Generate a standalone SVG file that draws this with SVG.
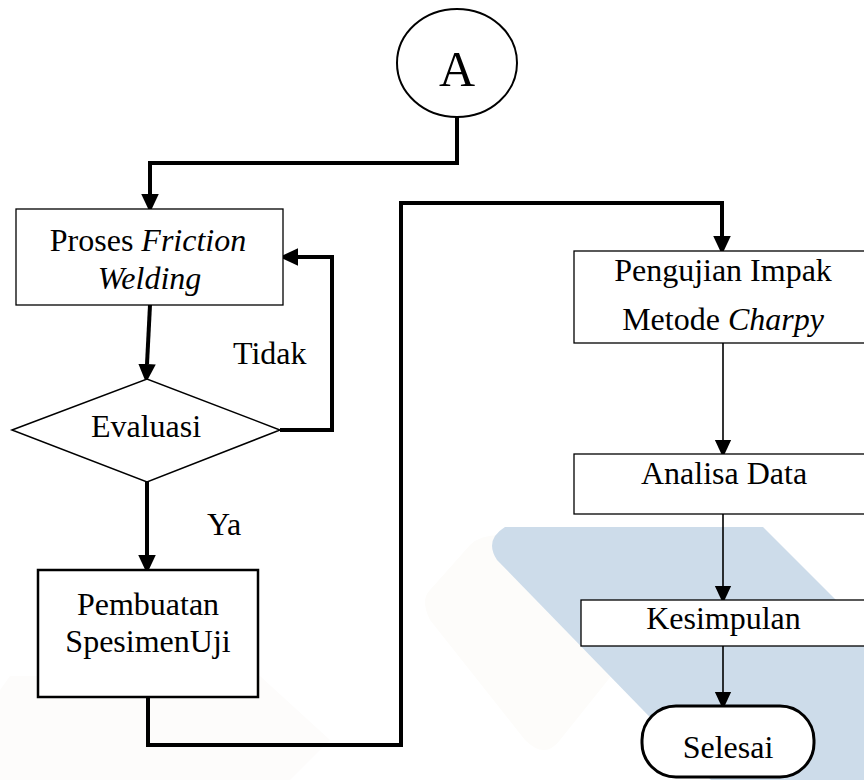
<svg xmlns="http://www.w3.org/2000/svg" width="864" height="780" viewBox="0 0 864 780">
  <defs>
    <marker id="arrowThick" markerUnits="userSpaceOnUse" markerWidth="20" markerHeight="20" viewBox="0 -8 16 16" refX="0" refY="0" orient="auto">
      <path d="M0,-7 L15,0 L0,7 z" fill="#000"/>
    </marker>
    <marker id="arrowThin" markerUnits="userSpaceOnUse" markerWidth="20" markerHeight="20" viewBox="0 -8 16 16" refX="0" refY="0" orient="auto">
      <path d="M0,-6.5 L14,0 L0,6.5 z" fill="#000"/>
    </marker>
  </defs>
  <style>
    text { font-family: "Liberation Serif", "Times New Roman", serif; font-size: 32px; fill: #000; }
    .c { text-anchor: middle; }
    .i { font-style: italic; }
    .box { fill: #fff; stroke: #000; stroke-width: 1.3; }
    .thick { fill: none; stroke: #000; stroke-width: 4; marker-end: url(#arrowThick); }
    .thin { fill: none; stroke: #000; stroke-width: 1.6; marker-end: url(#arrowThin); }
  </style>
  <rect width="864" height="780" fill="#fff"/>
  <g id="watermark">
    <path d="M470,545 Q480,535 500,535 L575,535 Q590,535 600,548 L640,605 Q650,620 640,640 L560,740 Q545,760 525,740 L430,620 Q420,600 430,590 Z" fill="#fdfcfa"/>
    <path d="M0,690 L0,780 L290,780 L330,740 L260,676 L10,676 Z" fill="#fdfcfb"/>
    <path d="M497,560 Q484,540 505,527 L763,527 L864,628 L864,780 L711,780 Z" fill="#cddcea"/>
  </g>
  <g id="connectors">
    <path class="thick" d="M457,117 V163 H150 V194"/>
    <path class="thick" d="M150,305 L147,364"/>
    <path class="thick" d="M280,430 H332 V257 H298"/>
    <path class="thick" d="M147,482 V555"/>
    <path class="thick" d="M148,697 V745 H401 V203 H722 V236"/>
    <path class="thin" d="M723,343 V440"/>
    <path class="thin" d="M723,514 V586"/>
    <path class="thin" d="M723,646 V692"/>
  </g>
  <g id="nodeA">
    <ellipse cx="457" cy="63" rx="60" ry="54" fill="#fff" stroke="#000" stroke-width="2"/>
    <text class="c" x="457" y="86" style="font-size:50px">A</text>
  </g>
  <g id="proses">
    <rect class="box" x="16" y="209" width="267" height="96"/>
    <text class="c" x="148" y="251">Proses <tspan class="i">Friction</tspan></text>
    <text class="c i" x="149.5" y="289">Welding</text>
  </g>
  <g id="evaluasi">
    <polygon points="12,430 147,379 280,430 147,482" fill="#fff" stroke="#000" stroke-width="1.5"/>
    <text class="c" x="146" y="437">Evaluasi</text>
  </g>
  <g id="labels">
    <text x="233" y="364">Tidak</text>
    <text x="207" y="535">Ya</text>
  </g>
  <g id="pembuatan">
    <rect x="38" y="570" width="220" height="127" fill="#fff" stroke="#000" stroke-width="2.5"/>
    <text class="c" x="148" y="615">Pembuatan</text>
    <text class="c" x="148" y="652">SpesimenUji</text>
  </g>
  <g id="pengujian">
    <rect class="box" x="574" y="251" width="298" height="92"/>
    <text class="c" x="723" y="281">Pengujian Impak</text>
    <text class="c" x="723" y="330">Metode <tspan class="i">Charpy</tspan></text>
  </g>
  <g id="analisa">
    <rect class="box" x="574" y="454" width="298" height="60"/>
    <text class="c" x="724" y="484">Analisa Data</text>
  </g>
  <g id="kesimpulan">
    <rect class="box" x="581" y="600" width="291" height="46"/>
    <text class="c" x="723.5" y="629">Kesimpulan</text>
  </g>
  <g id="selesai">
    <rect x="642" y="706" width="172" height="71" rx="34" ry="34" fill="#fff" stroke="#000" stroke-width="3"/>
    <text class="c" x="728" y="758">Selesai</text>
  </g>
</svg>
